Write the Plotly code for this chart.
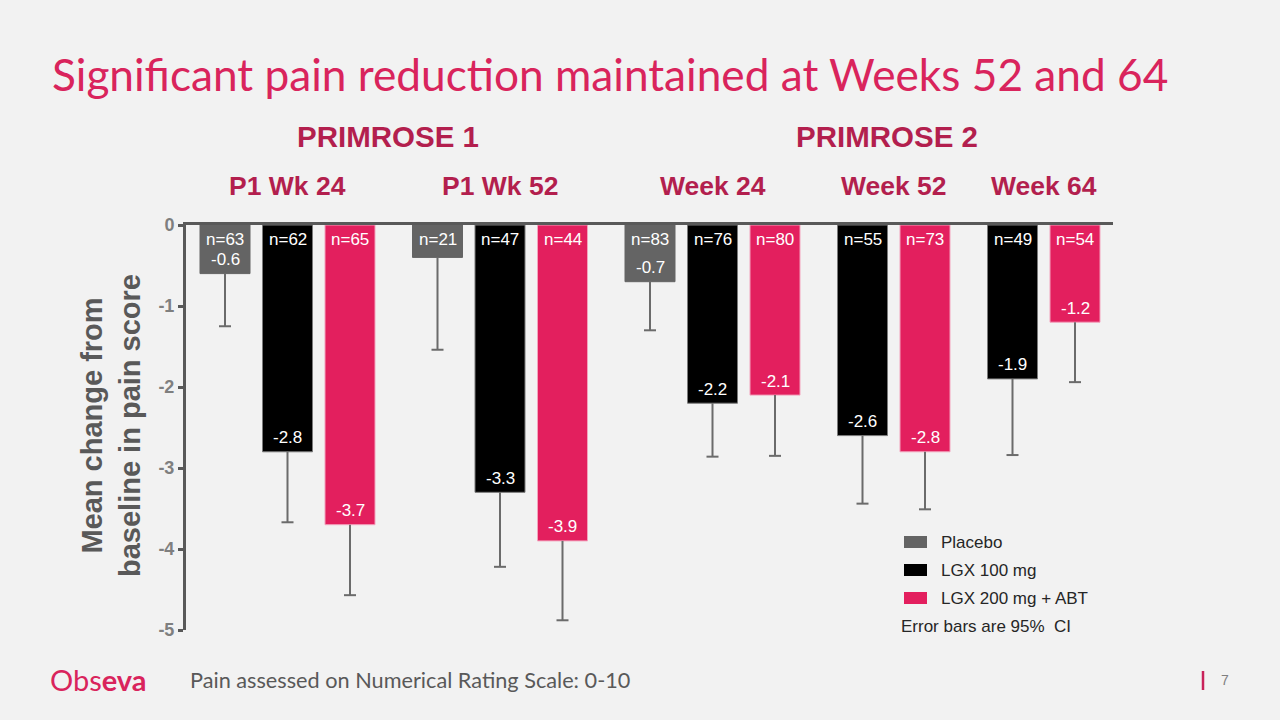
import plotly.graph_objects as go

# ---------------- data ----------------
groups = ["P1 Wk 24", "P1 Wk 52", "Week 24", "Week 52", "Week 64"]
series_names = ["Placebo", "LGX 100 mg", "LGX 200 mg + ABT"]

placebo_vals = [-0.6, -0.4, -0.7, None, None]
placebo_lower = [-1.25, -1.54, -1.30, None, None]
placebo_n = [63, 21, 83, None, None]

lgx100_vals = [-2.8, -3.3, -2.2, -2.6, -1.9]
lgx100_lower = [-3.67, -4.22, -2.86, -3.44, -2.84]
lgx100_n = [62, 47, 76, 55, 49]

lgx200_vals = [-3.7, -3.9, -2.1, -2.8, -1.2]
lgx200_lower = [-4.57, -4.88, -2.85, -3.51, -1.94]
lgx200_n = [65, 44, 80, 73, 54]

y_ticks = [0, -1, -2, -3, -4, -5]
study_labels = ["PRIMROSE 1", "PRIMROSE 2"]

# ---------------- styling ----------------
BG = "#f2f2f2"
PINK = "#e31f5e"
TITLE_PINK = "#d9245c"
DARK_PINK = "#b31f4e"
GREY_BAR = "#646464"
AXIS = "#595959"
colors = [GREY_BAR, "#000000", PINK]
outline = [GREY_BAR, "#7a7a7a", "#f3a3bd"]

# plot area in pixels
L, R, T, B = 186, 1113, 225, 630
W, H = 1280, 720


def px_x(px):
    return (px - L) / (R - L)


def px_y(py):
    return (B - py) / (B - T)


# compute bar positions: one slot per present bar, gap between groups
all_vals = [placebo_vals, lgx100_vals, lgx200_vals]
all_lower = [placebo_lower, lgx100_lower, lgx200_lower]
all_n = [placebo_n, lgx100_n, lgx200_n]
GAP = 0.4
positions = [[None] * len(groups) for _ in range(3)]
group_centers = []
cur = 0.0
for gi in range(len(groups)):
    members = []
    for si in range(3):
        if all_vals[si][gi] is not None:
            positions[si][gi] = cur
            members.append(cur)
            cur += 1
    group_centers.append(sum(members) / len(members))
    cur += GAP

fig = go.Figure()
annotations = []
CAP = 0.096
for si in range(3):
    xs, ys = [], []
    for gi in range(len(groups)):
        if all_vals[si][gi] is not None:
            xs.append(positions[si][gi])
            ys.append(all_vals[si][gi])
    fig.add_trace(go.Bar(
        x=xs, y=ys, width=0.8, name=series_names[si],
        marker=dict(color=colors[si], line=dict(color=outline[si], width=1)),
        showlegend=False, hoverinfo="skip",
    ))
    # error bars (one-sided, downward)
    ex, ey = [], []
    for gi in range(len(groups)):
        v = all_vals[si][gi]
        if v is None:
            continue
        x0 = positions[si][gi]
        lo = all_lower[si][gi]
        ex += [x0, x0, None, x0 - CAP, x0 + CAP, None]
        ey += [v, lo, None, lo, lo, None]
    fig.add_trace(go.Scatter(
        x=ex, y=ey, mode="lines", line=dict(color="#6b6b6b", width=2),
        showlegend=False, hoverinfo="skip",
    ))
    # labels
    for gi in range(len(groups)):
        v = all_vals[si][gi]
        if v is None:
            continue
        x0 = positions[si][gi]
        annotations.append(dict(
            x=x0, y=0, xref="x", yref="y", text=f"n={all_n[si][gi]}",
            showarrow=False, yshift=-14, font=dict(size=17, color="white",
                                                   family="Liberation Sans, Arial")))
        if abs(v) >= 0.5:
            annotations.append(dict(
                x=x0, y=v, xref="x", yref="y", text=f"{v:.1f}",
                showarrow=False, yshift=14, font=dict(size=17, color="white",
                                                      family="Liberation Sans, Arial")))

# group labels
for gi, g in enumerate(groups):
    annotations.append(dict(
        x=group_centers[gi], y=px_y(186), xref="x", yref="paper",
        text=f"<b>{g}</b>", showarrow=False, xanchor="center", yanchor="middle",
        font=dict(size=26.5, color=DARK_PINK, family="Liberation Sans, Arial")))

# study labels
for lbl, cx in zip(study_labels, [388, 887]):
    annotations.append(dict(
        x=px_x(cx), y=px_y(136), xref="paper", yref="paper",
        text=f"<b>{lbl}</b>", showarrow=False, xanchor="center", yanchor="middle",
        font=dict(size=29.5, color=DARK_PINK, family="Liberation Sans, Arial")))

# title
annotations.append(dict(
    x=px_x(50), y=px_y(73), xref="paper", yref="paper",
    text="Significant pain reduction maintained at Weeks 52 and 64",
    showarrow=False, xanchor="left", yanchor="middle",
    font=dict(size=44.2, color=TITLE_PINK, family="Lato")))

# y axis title
annotations.append(dict(
    x=px_x(111), y=px_y(426), xref="paper", yref="paper",
    text="<b>Mean change from<br>baseline in pain score</b>",
    showarrow=False, textangle=-90, xanchor="center", yanchor="middle",
    font=dict(size=29, color=AXIS, family="Liberation Sans, Arial")))

# legend
shapes = []
for i, (nm, c) in enumerate(zip(series_names, colors)):
    cy = 542 + 28 * i
    shapes.append(dict(type="rect", xref="paper", yref="paper",
                       x0=px_x(904), x1=px_x(927), y0=px_y(cy + 6), y1=px_y(cy - 6),
                       fillcolor=c, line=dict(width=0)))
    annotations.append(dict(
        x=px_x(939), y=px_y(cy), xref="paper", yref="paper", text=nm,
        showarrow=False, xanchor="left", yanchor="middle",
        font=dict(size=17, color="#262626", family="Liberation Sans, Arial")))
annotations.append(dict(
    x=px_x(899), y=px_y(626), xref="paper", yref="paper", text="Error bars are 95%  CI",
    showarrow=False, xanchor="left", yanchor="middle",
    font=dict(size=17, color="#262626", family="Liberation Sans, Arial")))

# footer
annotations.append(dict(
    x=px_x(48), y=px_y(679), xref="paper", yref="paper",
    text="Obs<b>eva</b>", showarrow=False, xanchor="left", yanchor="middle",
    font=dict(size=29, color=TITLE_PINK, family="Lato")))
annotations.append(dict(
    x=px_x(188), y=px_y(680), xref="paper", yref="paper",
    text="Pain assessed on Numerical Rating Scale: 0-10", showarrow=False,
    xanchor="left", yanchor="middle",
    font=dict(size=21.7, color="#595959", family="Lato")))
annotations.append(dict(
    x=px_x(1225), y=px_y(680), xref="paper", yref="paper",
    text="7", showarrow=False, xanchor="center", yanchor="middle",
    font=dict(size=14, color="#7f7f7f", family="Liberation Sans, Arial")))
shapes.append(dict(type="line", xref="paper", yref="paper",
                   x0=px_x(1203), x1=px_x(1203), y0=px_y(671), y1=px_y(690),
                   line=dict(color="#c9225a", width=2.5)))

xmin = (L - 225) / 62.5
xmax = (R - 225) / 62.5

fig.update_layout(
    width=W, height=H,
    margin=dict(l=L, r=W - R, t=T, b=H - B),
    paper_bgcolor=BG, plot_bgcolor=BG,
    barmode="overlay",
    showlegend=False,
    xaxis=dict(range=[xmin, xmax], side="top", showline=True, linecolor=AXIS,
               linewidth=3, showticklabels=False, ticks="", showgrid=False,
               zeroline=False, fixedrange=True),
    yaxis=dict(range=[-5, 0], tickvals=y_ticks, ticktext=[str(t) for t in y_ticks],
               ticks="outside", ticklen=5, tickwidth=2.5, tickcolor=AXIS,
               showline=True, linecolor=AXIS, linewidth=3, showgrid=False,
               zeroline=False,
               tickfont=dict(size=18, color="#7f7f7f", family="Liberation Sans, Arial",
                             weight="bold")),
    annotations=annotations,
    shapes=shapes,
)

fig.write_html(
    "out.html",
    config={"displayModeBar": False},
    post_script="document.body.style.margin='0';document.body.style.padding='0';"
                "document.body.style.background='#f2f2f2';",
)
